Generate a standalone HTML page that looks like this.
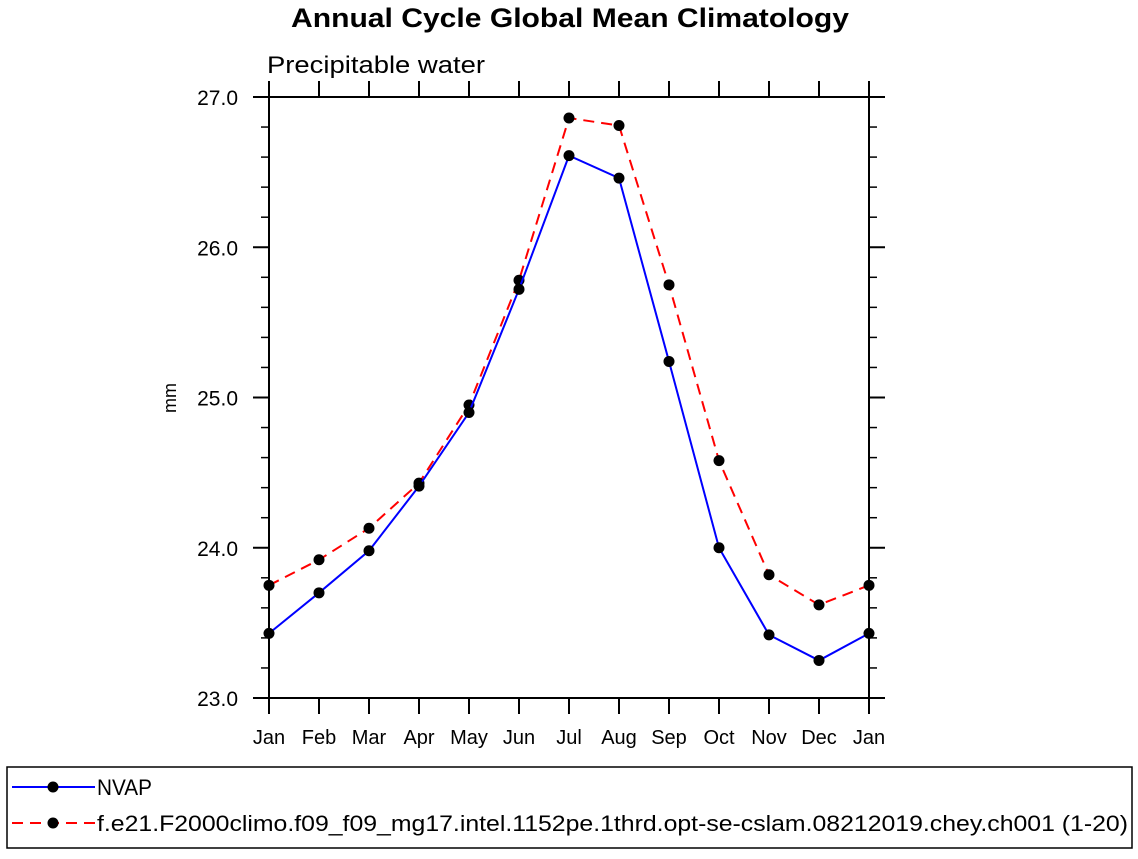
<!DOCTYPE html>
<html><head><meta charset="utf-8"><style>
body{margin:0;background:#fff;}
svg text{font-family:"Liberation Sans",Arial,sans-serif;}
</style></head><body>
<svg id="chart" width="1138" height="854" xmlns="http://www.w3.org/2000/svg">
<text x="291" y="27" font-size="27" font-weight="bold" textLength="558" lengthAdjust="spacingAndGlyphs">Annual Cycle Global Mean Climatology</text>
<text x="267" y="73" font-size="24" textLength="218" lengthAdjust="spacingAndGlyphs">Precipitable water</text>
<text transform="translate(176,398) rotate(-90)" text-anchor="middle" font-size="18">mm</text>
<g id="axes"></g>
<g id="series"></g>
<g>
<rect x="7" y="767" width="1125" height="81" fill="none" stroke="#000" stroke-width="1.5"/>
<line x1="12" y1="787" x2="95" y2="787" stroke="#0000ff" stroke-width="2"/>
<circle cx="53" cy="787" r="5.5" fill="#000"/>
<text x="97" y="795" font-size="22" textLength="55" lengthAdjust="spacingAndGlyphs">NVAP</text>
<line x1="12" y1="823" x2="95" y2="823" stroke="#ff0000" stroke-width="2" stroke-dasharray="11,7"/>
<circle cx="53" cy="823" r="5.5" fill="#000"/>
<text x="97" y="831" font-size="22" textLength="1031" lengthAdjust="spacingAndGlyphs">f.e21.F2000climo.f09_f09_mg17.intel.1152pe.1thrd.opt-se-cslam.08212019.chey.ch001 (1-20)</text>
</g>
</svg>
<script>
const months=["Jan","Feb","Mar","Apr","May","Jun","Jul","Aug","Sep","Oct","Nov","Dec","Jan"];
const nvap=[23.43,23.70,23.98,24.41,24.90,25.72,26.61,26.46,25.24,24.00,23.42,23.25,23.43];
const model=[23.75,23.92,24.13,24.43,24.95,25.78,26.86,26.81,25.75,24.58,23.82,23.62,23.75];
const yTicks=[23.0,24.0,25.0,26.0,27.0];
const yMin=23.0,yMax=27.0;
const L=269,R=869,T=97,B=698;
const NS="http://www.w3.org/2000/svg";
function X(i){return L+(R-L)*i/(months.length-1);}
function Y(v){return B-(B-T)*(v-yMin)/(yMax-yMin);}
function mk(tag,attrs,parent){const e=document.createElementNS(NS,tag);for(const k in attrs)e.setAttribute(k,attrs[k]);parent.appendChild(e);return e;}
const ax=document.getElementById('axes');
const fr=mk('rect',{x:L,y:T,width:R-L,height:B-T,fill:'none',stroke:'#000','stroke-width':2},ax);


months.forEach((m,i)=>{
  mk('line',{x1:X(i),y1:B,x2:X(i),y2:B+16,stroke:'#000','stroke-width':2},ax);
  mk('line',{x1:X(i),y1:T,x2:X(i),y2:T-16,stroke:'#000','stroke-width':2},ax);
  const t=mk('text',{x:X(i),y:744,'text-anchor':'middle','font-size':20},ax);
  t.textContent=m;
  
  
});
for(let v=yMin;v<=yMax+1e-6;v+=0.2){
  const major=Math.abs(v-Math.round(v))<1e-6;
  const len=major?16:8;
  mk('line',{x1:L,y1:Y(v),x2:L-len,y2:Y(v),stroke:'#000','stroke-width':major?2:1.5},ax);
  mk('line',{x1:R,y1:Y(v),x2:R+len,y2:Y(v),stroke:'#000','stroke-width':major?2:1.5},ax);
}
yTicks.forEach(v=>{
  const t=mk('text',{x:238,y:Y(v)+8,'text-anchor':'end','font-size':21},ax);
  t.textContent=v.toFixed(1);
  
  
});
const sg=document.getElementById('series');
function draw(vals,color,dash,name){
  const p=mk('polyline',{points:vals.map((v,i)=>X(i)+','+Y(v)).join(' '),fill:'none',stroke:color,'stroke-width':2,'stroke-dasharray':dash},sg);
  
  
  vals.forEach((v,i)=>{
    const c=mk('circle',{cx:X(i),cy:Y(v),r:5.5,fill:'#000'},sg);
    
    
  });
}
draw(model,'#ff0000','11,7','model');
draw(nvap,'#0000ff','none','nvap');
</script>
</body></html>
